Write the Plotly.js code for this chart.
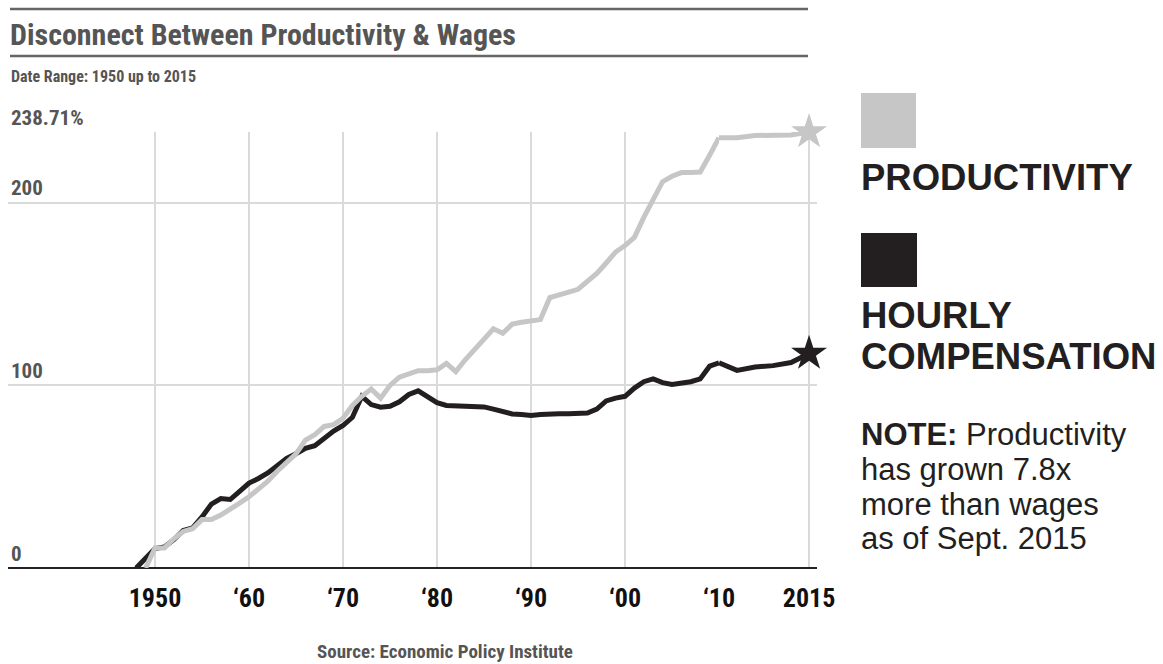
<!DOCTYPE html>
<html><head><meta charset="utf-8">
<script src="https://cdn.plot.ly/plotly-3.0.1.min.js"></script>
<style>
html,body{margin:0;padding:0;background:#fff}
.gtitle, .xtick text, .ytick text, .narrow text, text.narrow { font-stretch: condensed !important; }
</style>
</head><body><div id="chart" style="width:1163px;height:664px"></div>
<script>
const years = [1948,1949,1950,1951,1952,1953,1954,1955,1956,1957,1958,1959,
  1960,1961,1962,1963,1964,1965,1966,1967,1968,1969,
  1970,1971,1972,1973,1974,1975,1976,1977,1978,1979,
  1980,1981,1982,1983,1984,1985,1986,1987,1988,1989,
  1990,1991,1992,1993,1994,1995,1996,1997,1998,1999,
  2000,2001,2002,2003,2004,2005,2006,2007,2008,2009,
  2010,2011,2012,2013,2014,2015];
const productivity = [null,0,11,11,16,20,21.5,26.5,26.5,29,32,35.5,
  39,43,47.5,53,58,62.5,70,73,77.5,78.5,
  82,89,94,98,93,100,104.5,106,108,108,
  108.5,112,107.5,114,120,126,131,128.5,133.5,134.5,
  135,136,148,149.8,151,152.6,157,161.3,167,173,
  176.5,181,192,202.5,211.5,214.5,216.5,216.5,216.8,226,
  235.6,235.6,236.8,236.9,237.1,238.71];
const compensation = [0,5.5,10.6,11.5,15.5,20.5,22,28,35,38,37.5,42,
  46.5,49,52,56,60,62.5,65.5,67,71,75,
  78,82.5,94,89.5,88,88.5,91,95,97,93.5,
  90.5,89,88.8,88.6,88.4,88.2,87,85.5,84.3,84,
  83.5,84,84.5,84.5,84.5,84.6,84.8,87,91.5,93,
  94,98.5,102,103.5,101.5,100.5,101,102,103.5,110.5,
  112.3,108.2,110,110.8,112.5,117.4];
const decadeTicks = [1950,1960,1970,1980,1990,2000,2010];
const decadeLabels = ['1950','\u201860','\u201870','\u201880','\u201890','\u201800','\u201810'];
const endTick = [2015];
const endLabel = ['2015'];
const yTicks = [0,100,200,238.71];
const yLabels = ['0','100','200','238.71%'];
const splitYear = 2010;

const W = 1163, H = 664;
const M = {l: 8, r: 346, t: 132, b: 96};
const PW = W - M.l - M.r, PH = H - M.t - M.b;
const px = x => (x - M.l) / PW;
const py = y => (H - M.b - y) / PH;

const NARROW = '"Roboto Condensed", "DejaVu Sans Condensed", "Liberation Sans Narrow", "Arial Narrow", "DejaVu Sans", sans-serif';
const SANS = '"Liberation Sans", Arial, Helvetica, sans-serif';
const GRAY = '#c6c6c6', BLACK = '#231f20', GRID = '#dadada';

function seg(vals, a, b) {
  const xs = [], ys = [];
  years.forEach((y, i) => { if (y >= a && y <= b) { xs.push(y); ys.push(vals[i]); } });
  return {xs, ys};
}
function lineTraces(vals, color) {
  const s1 = seg(vals, -Infinity, splitYear), s2 = seg(vals, splitYear, Infinity);
  const n = years.length - 1;
  return [
    {x: s1.xs, y: s1.ys, xaxis: 'x', yaxis: 'y', mode: 'lines', line: {color, width: 5}, hoverinfo: 'skip'},
    {x: s2.xs, y: s2.ys, xaxis: 'x2', yaxis: 'y', mode: 'lines', line: {color, width: 5}, hoverinfo: 'skip'},
    {x: [years[n]], y: [vals[n]], xaxis: 'x2', yaxis: 'y', mode: 'markers',
     marker: {symbol: 'star', size: 27, color, line: {width: 0}}, hoverinfo: 'skip', cliponaxis: false}
  ];
}
const data = [...lineTraces(compensation, BLACK), ...lineTraces(productivity, GRAY)];

const xCommon = {
  showgrid: true, gridcolor: GRID, gridwidth: 2, zeroline: false, showline: false, ticks: '',
  tickfont: {family: NARROW, size: 26, color: '#111', weight: 'bold'}, ticklabelstandoff: 12, fixedrange: true
};
const layout = {
  width: W, height: H, margin: M, showlegend: false,
  paper_bgcolor: '#fff', plot_bgcolor: '#fff',
  title: {text: 'Disconnect Between Productivity & Wages', x: 10 / W, xref: 'container', xanchor: 'left',
    y: 1 - 34 / H, yref: 'container', yanchor: 'middle',
    font: {family: NARROW, size: 30, color: '#555', weight: 'bold'}},
  xaxis: Object.assign({}, xCommon, {domain: [0, px(719)], range: [1934.36, 2010],
    tickvals: decadeTicks, ticktext: decadeLabels, anchor: 'y'}),
  xaxis2: Object.assign({}, xCommon, {domain: [px(719), 1], range: [2010, 2015.44],
    tickvals: endTick, ticktext: endLabel, anchor: 'y'}),
  yaxis: {range: [0, 238.71], tickvals: yTicks, ticktext: yLabels, ticklabelposition: 'inside top',
    ticklabeloverflow: 'allow', showgrid: true, gridcolor: GRID, gridwidth: 2,
    zeroline: true, zerolinecolor: '#222', zerolinewidth: 2.5, showline: false, ticks: '',
    tickfont: {family: NARROW, size: 21, color: '#555', weight: 'bold'}, fixedrange: true},
  shapes: [
    {type: 'line', xref: 'paper', yref: 'paper', x0: px(10), x1: px(808), y0: py(9), y1: py(9), line: {color: '#666', width: 2.5}},
    {type: 'line', xref: 'paper', yref: 'paper', x0: px(10), x1: px(808), y0: py(56), y1: py(56), line: {color: '#666', width: 2.5}},
    {type: 'rect', xref: 'paper', yref: 'paper', x0: px(861), x1: px(916), y0: py(148), y1: py(93), fillcolor: GRAY, line: {width: 0}},
    {type: 'rect', xref: 'paper', yref: 'paper', x0: px(861), x1: px(917), y0: py(287), y1: py(233), fillcolor: BLACK, line: {width: 0}}
  ],
  annotations: [
    {text: 'Date Range: 1950 up to 2015', x: px(9), y: py(76), font: {family: NARROW, size: 16, color: '#555', weight: 'bold'}, name: 'narrow'},
    {text: 'Source: Economic Policy Institute', x: px(445), y: py(651), xanchor: 'center', font: {family: NARROW, size: 19, color: '#555', weight: 'bold'}, name: 'narrow'},
    {text: '<b>PRODUCTIVITY</b>', x: px(859), y: py(177), font: {family: SANS, size: 36.5, color: BLACK}},
    {text: '<b>HOURLY</b>', x: px(859), y: py(315), font: {family: SANS, size: 36.5, color: BLACK}},
    {text: '<b>COMPENSATION</b>', x: px(859), y: py(356), font: {family: SANS, size: 36.5, color: BLACK}},
    {text: '<b>NOTE:</b> Productivity', x: px(859), y: py(434), font: {family: SANS, size: 31, color: BLACK}},
    {text: 'has grown 7.8x', x: px(859), y: py(469), font: {family: SANS, size: 31, color: BLACK}},
    {text: 'more than wages', x: px(859), y: py(504), font: {family: SANS, size: 31, color: BLACK}},
    {text: 'as of Sept. 2015', x: px(859), y: py(538), font: {family: SANS, size: 31, color: BLACK}}
  ].map(a => Object.assign({xref: 'paper', yref: 'paper', xanchor: 'left', yanchor: 'middle', showarrow: false}, a))
};
Plotly.newPlot('chart', data, layout, {displayModeBar: false, staticPlot: true}).then(gd => {
  const anns = gd.querySelectorAll('.annotation');
  layout.annotations.forEach((a, i) => { if (a.name === 'narrow' && anns[i]) anns[i].classList.add('narrow'); });
});
</script></body></html>
